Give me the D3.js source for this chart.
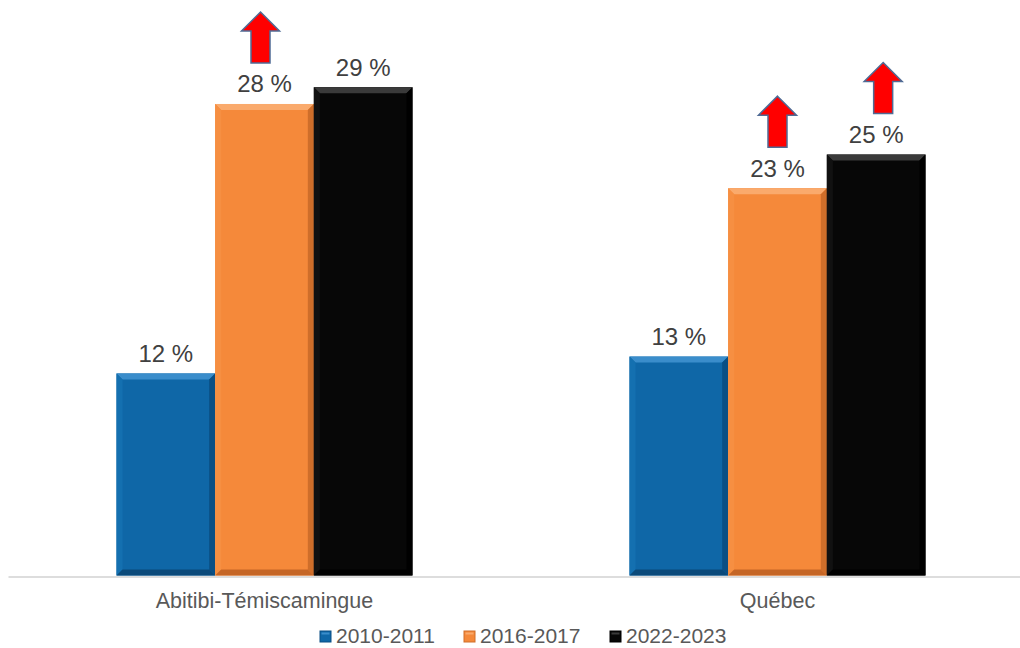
<!DOCTYPE html>
<html>
<head>
<meta charset="utf-8">
<script src="https://cdn.jsdelivr.net/npm/d3@7"></script>
<style>
  html, body { margin: 0; padding: 0; background: #ffffff; }
  svg { display: block; font-family: "Liberation Sans", Arial, sans-serif; }
</style>
</head>
<body>
<svg id="chart" width="1020" height="648"></svg>
<script>
// Regions and school years
const categories = ["Abitibi-Témiscamingue", "Québec"];
const series = ["2010-2011", "2016-2017", "2022-2023"];

// Percentage for each region, one array per school year
const values2010 = [12, 13];
const values2016 = [28, 23];
const values2022 = [29, 25];
const seriesValues = [values2010, values2016, values2022];

// Bars flagged with an upward arrow (region, school year)
const arrowFlags = [
  ["Abitibi-Témiscamingue", "2016-2017"],
  ["Québec", "2016-2017"],
  ["Québec", "2022-2023"]
];

// Styling
const palette = {
  "2010-2011": { base: "#0F67A7", top: "#3A8DCB", left: "#1470B0", right: "#0A4F84", bottom: "#0B4A7A" },
  "2016-2017": { base: "#F5893A", top: "#FAAA6C", left: "#F68F42", right: "#CF6E2A", bottom: "#C56626" },
  "2022-2023": { base: "#070707", top: "#3A3A3A", left: "#111111", right: "#000000", bottom: "#000000" }
};
const arrowShift = { "Abitibi-Témiscamingue|2016-2017": -4, "Québec|2016-2017": 0, "Québec|2022-2023": 7 };

const svg = d3.select("#chart");
const baseY = 575.5;

const x0 = d3.scaleBand()
  .domain(categories)
  .range([8, 1034])
  .paddingInner(0.423)
  .paddingOuter(0.2115);

const x1 = d3.scaleBand()
  .domain(series)
  .range([0, x0.bandwidth()])
  .padding(0);

const y = d3.scaleLinear()
  .domain([0, 34])
  .range([baseY, baseY - 34 * 16.84]);

// Flatten to one record per bar
const bars = [];
categories.forEach((c, ci) => {
  series.forEach((s, si) => {
    bars.push({ cat: c, ser: s, value: seriesValues[si][ci] });
  });
});

// Bars with a bevelled edge
const bevel = 6;
const barG = svg.append("g");
const barSel = barG.selectAll("g.bar").data(bars).join("g").attr("class", "bar");

barSel.each(function (d) {
  const g = d3.select(this);
  const bx = x0(d.cat) + x1(d.ser);
  const bw = x1.bandwidth();
  const by = y(d.value);
  const bh = y(0) - by;
  const col = palette[d.ser];
  const b = bevel;
  g.append("rect").attr("x", bx).attr("y", by).attr("width", bw).attr("height", bh).attr("fill", col.base);
  // top edge
  g.append("polygon")
    .attr("points", [[bx, by], [bx + bw, by], [bx + bw - b, by + b], [bx + b, by + b]].map(p => p.join(",")).join(" "))
    .attr("fill", col.top);
  // left edge
  g.append("polygon")
    .attr("points", [[bx, by], [bx + b, by + b], [bx + b, by + bh - b], [bx, by + bh]].map(p => p.join(",")).join(" "))
    .attr("fill", col.left);
  // right edge
  g.append("polygon")
    .attr("points", [[bx + bw, by], [bx + bw, by + bh], [bx + bw - b, by + bh - b], [bx + bw - b, by + b]].map(p => p.join(",")).join(" "))
    .attr("fill", col.right);
  // bottom edge
  g.append("polygon")
    .attr("points", [[bx, by + bh], [bx + bw, by + bh], [bx + bw - b, by + bh - b], [bx + b, by + bh - b]].map(p => p.join(",")).join(" "))
    .attr("fill", col.bottom);
});

// Value labels
svg.append("g").selectAll("text").data(bars).join("text")
  .attr("x", d => x0(d.cat) + x1(d.ser) + x1.bandwidth() / 2)
  .attr("y", d => y(d.value) - 11.5)
  .attr("text-anchor", "middle")
  .attr("font-size", 24)
  .attr("fill", "#404040")
  .text(d => d.value + " %");

// Category axis along the baseline
const axis = svg.append("g")
  .attr("transform", `translate(0,${baseY + 1})`)
  .call(d3.axisBottom(x0).tickSize(0).tickPadding(16.4));
axis.select(".domain").attr("stroke", "#DDDDDD").attr("stroke-width", 2);
axis.selectAll(".tick text")
  .attr("font-size", 21.5)
  .attr("fill", "#595959")
  .attr("font-family", "'Liberation Sans', Arial, sans-serif");

// Upward arrows above flagged bars
const arrowData = arrowFlags.map(([c, s]) => {
  const si = series.indexOf(s), ci = categories.indexOf(c);
  return { cat: c, ser: s, value: seriesValues[si][ci] };
});
svg.append("g").selectAll("path").data(arrowData).join("path")
  .attr("d", d => {
    const cx = x0(d.cat) + x1(d.ser) + x1.bandwidth() / 2 + arrowShift[d.cat + "|" + d.ser];
    const top = y(d.value);
    const tip = top - 92, neck = top - 73, foot = top - 41;
    const hw = 19, sw = 9.5;
    return `M${cx},${tip} L${cx + hw},${neck} L${cx + sw},${neck} L${cx + sw},${foot} L${cx - sw},${foot} L${cx - sw},${neck} L${cx - hw},${neck} Z`;
  })
  .attr("fill", "#FF0000")
  .attr("stroke", "#4F6B95")
  .attr("stroke-width", 1.5)
  .attr("stroke-linejoin", "miter");

// Legend
const legendX = [320, 464, 610];
const legend = svg.append("g").selectAll("g").data(series).join("g")
  .attr("transform", (d, i) => `translate(${legendX[i]},0)`);
legend.append("rect")
  .attr("x", 0).attr("y", 631).attr("width", 11).attr("height", 11)
  .attr("fill", d => palette[d].base)
  .attr("stroke", d => palette[d].right).attr("stroke-width", 1);
legend.append("rect")
  .attr("x", 1.5).attr("y", 632.5).attr("width", 8).attr("height", 2)
  .attr("fill", d => palette[d].top);
legend.append("text")
  .attr("x", 16).attr("y", 642.5)
  .attr("font-size", 21)
  .attr("fill", "#595959")
  .text(d => d);
</script>
</body>
</html>
